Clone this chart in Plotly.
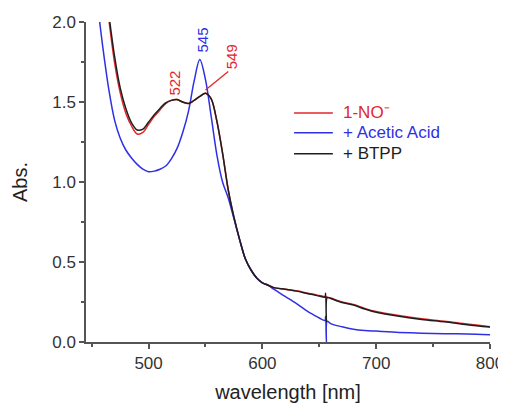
import plotly.graph_objects as go

# ---- data ----
wavelength = [455, 460, 465, 470, 475, 480, 485, 490, 495, 500, 505, 510, 515, 520, 525,
              530, 535, 540, 545, 550, 555, 560, 565, 570, 575, 580, 585, 590, 595, 600,
              605, 610, 620, 630, 640, 645, 650, 655, 655.6, 656.2, 657, 660, 670, 680, 690,
              700, 720, 740, 760, 780, 800]

abs_no = [2.60, 2.30, 2.02, 1.75, 1.56, 1.43, 1.35, 1.30, 1.31, 1.36, 1.41, 1.45, 1.49, 1.51, 1.515,
          1.50, 1.49, 1.51, 1.535, 1.555, 1.52, 1.38, 1.18, 0.95, 0.78, 0.64, 0.52, 0.45, 0.40, 0.37,
          0.355, 0.34, 0.33, 0.32, 0.305, 0.298, 0.29, 0.283, 0.282, 0.281, 0.280, 0.275, 0.25, 0.235, 0.21,
          0.19, 0.165, 0.145, 0.13, 0.112, 0.096]

abs_acid = [2.12, 1.83, 1.58, 1.39, 1.275, 1.20, 1.15, 1.11, 1.08, 1.064, 1.068, 1.08, 1.10, 1.145, 1.21,
            1.31, 1.44, 1.63, 1.765, 1.64, 1.41, 1.17, 1.00, 0.90, 0.77, 0.64, 0.52, 0.45, 0.40, 0.37,
            0.356, 0.33, 0.285, 0.24, 0.19, 0.17, 0.15, 0.135, 0.16, 0.0, 0.13, 0.115, 0.095, 0.08, 0.072,
            0.068, 0.06, 0.055, 0.052, 0.05, 0.046]

abs_btpp = [2.65, 2.34, 2.05, 1.79, 1.59, 1.46, 1.37, 1.325, 1.33, 1.375, 1.42, 1.46, 1.495, 1.51, 1.515,
            1.50, 1.49, 1.51, 1.535, 1.555, 1.52, 1.38, 1.18, 0.95, 0.78, 0.64, 0.52, 0.45, 0.40, 0.37,
            0.355, 0.34, 0.33, 0.318, 0.302, 0.295, 0.287, 0.281, 0.305, 0.125, 0.278, 0.272, 0.247, 0.231, 0.206,
            0.186, 0.161, 0.141, 0.126, 0.108, 0.093]

series_names = ["1-NO\u207b", "+ Acetic Acid", "+ BTPP"]
x_ticks = [500, 600, 700, 800]
y_ticks = [0.0, 0.5, 1.0, 1.5, 2.0]

RED = "#e3262a"
BLUE = "#2f2fe6"
BLACK = "#1e1e1e"
colors = [RED, BLUE, BLACK]
FONT = "Arial, Liberation Sans, sans-serif"

fig = go.Figure()
for ys, name, col in zip([abs_no, abs_acid, abs_btpp], series_names, colors):
    fig.add_trace(go.Scatter(x=wavelength, y=ys, mode="lines", name=name, showlegend=False,
                             line=dict(color=col, width=1.5, shape="spline", smoothing=0.9)))

# legend drawn as sample lines + coloured labels (paper coordinates)
legend_rows = [0.716, 0.654, 0.588]
for name, col, ry in zip(series_names, colors, legend_rows):
    fig.add_shape(type="line", xref="paper", yref="paper", x0=0.515, x1=0.611, y0=ry, y1=ry,
                  line=dict(color=col, width=1.5))
    fig.add_annotation(xref="paper", yref="paper", x=0.630, y=ry, xanchor="left", yanchor="middle",
                       text=name, showarrow=False, font=dict(color=col, size=17, family=FONT))

# peak labels
fig.add_annotation(x=523, y=1.62, text="522", textangle=-90, showarrow=False,
                   font=dict(color=RED, size=15, family=FONT))
fig.add_annotation(x=547, y=1.885, text="545", textangle=-90, showarrow=False,
                   font=dict(color=BLUE, size=15, family=FONT))
fig.add_annotation(x=572.5, y=1.78, text="549", textangle=-90, showarrow=False,
                   font=dict(color=RED, size=15, family=FONT))
fig.add_shape(type="line", x0=550, y0=1.575, x1=570, y1=1.69, xref="x", yref="y",
              line=dict(color=RED, width=1.3))

axis_common = dict(showline=True, linecolor="#555555", linewidth=1.5, ticks="outside",
                   ticklen=5, tickwidth=1.5, tickcolor="#555555", showgrid=False, zeroline=False,
                   tickfont=dict(size=17, color="#333333", family=FONT),
                   mirror=False, automargin=False)

fig.update_xaxes(range=[445, 800], tickvals=x_ticks, ticktext=[str(v) for v in x_ticks],
                 minor=dict(tickvals=[450, 550, 650, 750], ticklen=3, tickwidth=1.5,
                            tickcolor="#555555", ticks="outside"),
                 title=dict(text="wavelength [nm]", font=dict(size=20, color="#222222", family=FONT),
                            standoff=14),
                 **axis_common)
fig.update_yaxes(range=[0, 2.0], tickvals=y_ticks, ticktext=[f"{v:.1f}" for v in y_ticks],
                 minor=dict(tickvals=[0.25, 0.75, 1.25, 1.75], ticklen=3, tickwidth=1.5,
                            tickcolor="#555555", ticks="outside"),
                 title=dict(text="Abs.", font=dict(size=20, color="#222222", family=FONT),
                            standoff=19),
                 **axis_common)

# the page adds an 8px body margin, so the figure is sized/offset to compensate
fig.update_layout(
    width=498, height=395,
    margin=dict(l=78, r=16, t=14, b=61),
    paper_bgcolor="white", plot_bgcolor="white",
    font=dict(family=FONT),
    showlegend=False,
)

fig.write_html("out.html")
